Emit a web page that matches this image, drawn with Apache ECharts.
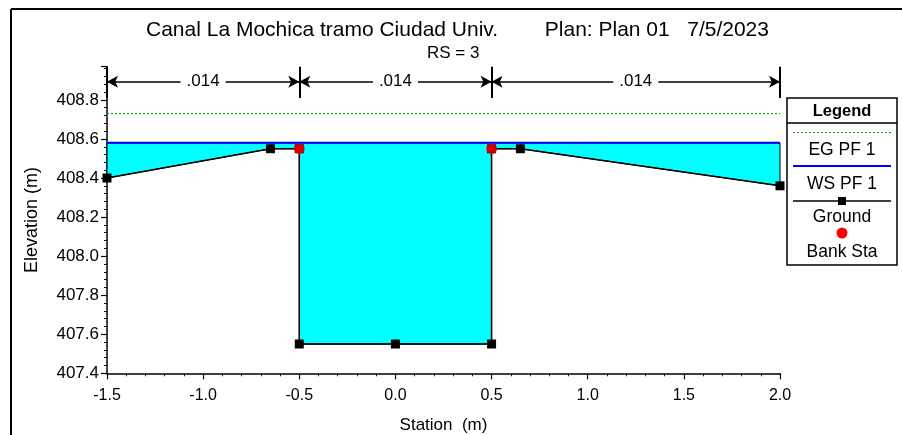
<!DOCTYPE html>
<html>
<head>
<meta charset="utf-8">
<script src="https://cdn.jsdelivr.net/npm/echarts@6/dist/echarts.min.js"></script>
<style>html,body{margin:0;padding:0;background:#fff}#c{width:902px;height:435px}</style>
</head>
<body>
<div id="c"></div>
<script>
// ---- data ----
var titleText = 'Canal La Mochica tramo Ciudad Univ.        Plan: Plan 01   7/5/2023';
var subTitleText = 'RS = 3';
var groundStation = [-1.5, -0.65, -0.5, -0.5, 0.0, 0.5, 0.5, 0.65, 2.0];
var groundElev    = [408.40, 408.55, 408.55, 407.55, 407.55, 407.55, 408.55, 408.55, 408.36];
var bankStation = [-0.5, 0.5];
var bankElev    = [408.55, 408.55];
var wsElev = 408.58;   // WS PF 1
var egElev = 408.73;   // EG PF 1
var nStations = [-1.5, -0.5, 0.5, 2.0];
var nValues = ['.014', '.014', '.014'];
var xTicks = [-1.5, -1.0, -0.5, 0.0, 0.5, 1.0, 1.5, 2.0];
var yTicks = [407.4, 407.6, 407.8, 408.0, 408.2, 408.4, 408.6, 408.8];
var legendLabels = ['EG PF 1', 'WS PF 1', 'Ground', 'Bank Sta'];

// ---- build ----
var FONT = 'Liberation Sans, Arial, sans-serif';
var xMin = xTicks[0], xMax = xTicks[xTicks.length - 1];
var yMin = yTicks[0], yTop = 408.97;
var bracketTop = yTop, bracketBottom = 408.81, arrowY = 408.893;

var groundData = groundStation.map(function (x, i) { return [x, groundElev[i]]; });
var bankData = bankStation.map(function (x, i) { return [x, bankElev[i]]; });
var waterPoly = [[xMin, wsElev]].concat(groundData).concat([[xMax, wsElev]]);

var markLines = [];
nStations.forEach(function (s) {
  markLines.push([{ coord: [s, bracketTop], symbol: 'none' }, { coord: [s, bracketBottom], symbol: 'none',
    lineStyle: { width: 2 } }]);
});
nValues.forEach(function (v, i) {
  markLines.push([{ coord: [nStations[i], arrowY], symbol: 'arrow' },
                  { coord: [nStations[i + 1], arrowY], symbol: 'arrow',
                    label: { show: true, formatter: v } }]);
});

var chart = echarts.init(document.getElementById('c'), null, { renderer: 'canvas' });

var lx = 787, lw = 110, lcx = lx + lw / 2;
function legText(t, y, bold, size) {
  return { type: 'text', x: lcx, y: y, z: 101, silent: true,
    style: { text: t, font: (bold ? 'bold ' : '') + size + 'px ' + FONT, fill: '#000', textAlign: 'center', textVerticalAlign: 'middle' } };
}
var option = {
  animation: false,
  backgroundColor: '#fff',
  textStyle: { fontFamily: FONT },
  title: [
    { text: titleText, left: 146, top: 20, padding: 0, textStyle: { fontSize: 21, fontWeight: 'normal', color: '#000', fontFamily: FONT } },
    { text: subTitleText, left: 427, top: 45, padding: 0, textStyle: { fontSize: 17, fontWeight: 'normal', color: '#000', fontFamily: FONT } }
  ],
  grid: { left: 107, right: 122, top: 66.7, bottom: 61.7, containLabel: false, outerBoundsMode: 'none' },
  xAxis: {
    type: 'value', min: xMin, max: xMax, interval: 0.5,
    name: 'Station  (m)', nameLocation: 'middle', nameGap: 44,
    nameTextStyle: { fontSize: 17, color: '#000', fontFamily: FONT },
    axisLine: { show: true, onZero: false, lineStyle: { color: '#000', width: 1.5 } },
    axisTick: { show: true, inside: false, length: 6, lineStyle: { color: '#000', width: 1.2 } },
    minorTick: { show: true, splitNumber: 5, length: 3, lineStyle: { color: '#000', width: 1 } },
    splitLine: { show: false },
    axisLabel: { fontSize: 16, color: '#000', margin: 14, fontFamily: FONT,
      formatter: function (v) { return v.toFixed(1); } }
  },
  yAxis: {
    type: 'value', min: yMin, max: yTop, interval: 0.2,
    name: 'Elevation (m)', nameLocation: 'middle', nameGap: 66,
    nameTextStyle: { fontSize: 18, color: '#000', fontFamily: FONT },
    axisLine: { show: true, onZero: false, lineStyle: { color: '#000', width: 1.5 } },
    axisTick: { show: true, inside: false, length: 6, lineStyle: { color: '#000', width: 1.2 } },
    minorTick: { show: true, splitNumber: 5, length: 3, lineStyle: { color: '#000', width: 1 } },
    splitLine: { show: false },
    axisLabel: { fontSize: 17, color: '#000', margin: 8, fontFamily: FONT, showMaxLabel: false,
      formatter: function (v) { return v.toFixed(1); } }
  },
  series: [
    {
      type: 'custom', name: 'water', data: [0], silent: true, z: 1, clip: false,
      renderItem: function (params, api) {
        var pts = waterPoly.map(function (p) { return api.coord(p); });
        return { type: 'polygon', shape: { points: pts }, style: { fill: '#00ffff', stroke: '#000', lineWidth: 1 } };
      }
    },
    {
      type: 'line', name: 'EG PF 1', data: [[xMin, egElev], [xMax, egElev]], showSymbol: false, z: 2,
      lineStyle: { color: '#00b000', width: 1.2, type: [2, 2] }
    },
    {
      type: 'line', name: 'WS PF 1', data: [[xMin, wsElev], [xMax, wsElev]], showSymbol: false, z: 3,
      lineStyle: { color: '#0000ff', width: 2 }
    },
    {
      type: 'line', name: 'Ground', data: groundData, z: 4,
      symbol: 'rect', symbolSize: 9, showSymbol: true,
      itemStyle: { color: '#000' }, lineStyle: { color: '#000', width: 1.5 }
    },
    {
      type: 'scatter', name: 'Bank Sta', data: bankData, z: 5,
      symbol: 'circle', symbolSize: 11, itemStyle: { color: '#ff0000' }
    },
    {
      type: 'line', name: 'n', data: [], z: 6,
      markLine: {
        silent: true, animation: false, symbolSize: [9, 11],
        lineStyle: { color: '#000', width: 1.5, type: 'solid' },
        label: { show: false, position: 'middle', distance: 0, verticalAlign: 'middle', align: 'center',
          fontSize: 17, color: '#000', fontFamily: FONT,
          backgroundColor: '#fff', padding: [0, 6] },
        emphasis: { disabled: true },
        data: markLines
      }
    }
  ],
  graphic: [
    { type: 'line', shape: { x1: 11, y1: 9, x2: 902, y2: 9 }, style: { stroke: '#000', lineWidth: 2 }, silent: true },
    { type: 'line', shape: { x1: 11, y1: 9, x2: 11, y2: 435 }, style: { stroke: '#000', lineWidth: 2 }, silent: true },
    { type: 'rect', shape: { x: lx, y: 98, width: lw, height: 167 }, style: { fill: '#fff', stroke: '#000', lineWidth: 1.5 }, z: 100, silent: true },
    { type: 'line', shape: { x1: lx, y1: 123, x2: lx + lw, y2: 123 }, style: { stroke: '#000', lineWidth: 1.5 }, z: 101, silent: true },
    legText('Legend', 111, true, 16.5),
    { type: 'line', shape: { x1: lx + 6, y1: 132.5, x2: lx + lw - 6, y2: 132.5 }, style: { stroke: '#00a000', lineWidth: 1, lineDash: [2, 2] }, z: 101, silent: true },
    legText(legendLabels[0], 150, false, 17.5),
    { type: 'line', shape: { x1: lx + 6, y1: 166, x2: lx + lw - 6, y2: 166 }, style: { stroke: '#0000ff', lineWidth: 2 }, z: 101, silent: true },
    legText(legendLabels[1], 184, false, 17.5),
    { type: 'line', shape: { x1: lx + 6, y1: 201, x2: lx + lw - 6, y2: 201 }, style: { stroke: '#000', lineWidth: 1.5 }, z: 101, silent: true },
    { type: 'rect', shape: { x: lcx - 4, y: 197, width: 8, height: 8 }, style: { fill: '#000' }, z: 102, silent: true },
    legText(legendLabels[2], 217, false, 17.5),
    { type: 'circle', shape: { cx: lcx, cy: 233, r: 5.5 }, style: { fill: '#ff0000' }, z: 101, silent: true },
    legText(legendLabels[3], 252, false, 17.5)
  ]
};
chart.setOption(option);
</script>
</body>
</html>
